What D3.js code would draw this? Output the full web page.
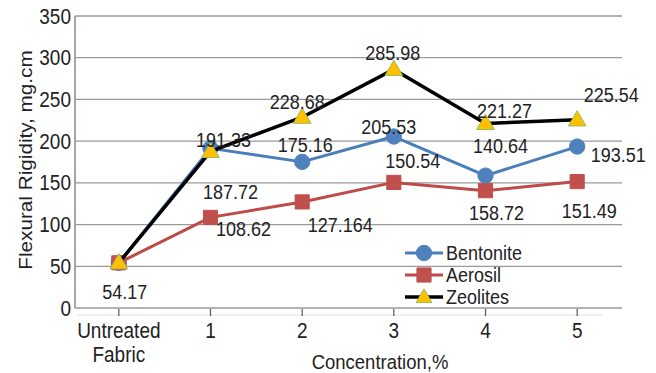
<!DOCTYPE html>
<html><head><meta charset="utf-8">
<script src="https://cdn.jsdelivr.net/npm/d3@7"></script>
<style>
html,body{margin:0;padding:0;background:#fff;}
svg{display:block;font-family:"Liberation Sans",Arial,sans-serif;}
</style></head>
<body><svg id="c" width="656" height="373"></svg>
<script>
const categories = ["Untreated\nFabric", "1", "2", "3", "4", "5"];
const bentonite = [54.17, 191.33, 175.16, 205.53, 158.72, 193.51];
const aerosil   = [54.17, 108.62, 127.164, 150.54, 140.64, 151.49];
const zeolites  = [54.17, 187.72, 228.68, 285.98, 221.27, 225.54];
const seriesNames = ["Bentonite", "Aerosil", "Zeolites"];
const yTicks = [0, 50, 100, 150, 200, 250, 300, 350];
const labelTexts = {
  Bentonite: ["54.17", "191.33", "175.16", "205.53", "158.72", "193.51"],
  Aerosil:   [null, "108.62", "127.164", "150.54", "140.64", "151.49"],
  Zeolites:  [null, "187.72", "228.68", "285.98", "221.27", "225.54"]
};
// label offsets (style): [dx, dy] from the point
const labelOffsets = {
  Bentonite: [[6,29],[13,-8],[3,-17],[-5,-10],[11,37],[41,8]],
  Aerosil:   [null,[33,12],[38,23],[19,-21],[15,-45],[12,29]],
  Zeolites:  [null,[20,41],[-5,-15],[-1,-16],[19,-12],[34,-25]]
};

const SY = 1.12; // vertical stretch of text seen in reference
const svg = d3.select("#c");
const x = d3.scalePoint().domain(categories).range([73, 623]).padding(0.5);
const y = d3.scaleLinear().domain([0, 350]).range([308, 16]);

function txt(parent, px, py, s, size, anchor, rot) {
  const sc = rot ? `scale(${SY},1)` : `scale(1,${SY})`;
  return parent.append("text")
    .attr("transform", `translate(${px},${py})` + (rot ? ` rotate(${rot})` : "") + " " + sc)
    .attr("text-anchor", anchor).attr("font-size", size).attr("fill", "#222").text(s);
}

// gridlines
svg.append("g").selectAll("line").data(yTicks).join("line")
  .attr("x1", 75).attr("x2", 622)
  .attr("y1", d => y(d)).attr("y2", d => y(d))
  .attr("stroke", "#9a9a9a").attr("stroke-width", 1.3);

// left axis line
svg.append("line").attr("x1", 75).attr("x2", 75).attr("y1", y(350)).attr("y2", y(0))
  .attr("stroke", "#8a8a8a").attr("stroke-width", 1.5);

// y tick labels
const gy = svg.append("g");
yTicks.forEach(d => txt(gy, 71, y(d) + 7.5, d, 19, "end"));

// faint x axis line and ticks
svg.append("line").attr("x1", 77).attr("x2", 603).attr("y1", 315).attr("y2", 315)
  .attr("stroke", "#e2e2e2").attr("stroke-width", 1);
svg.append("g").selectAll("line").data(categories).join("line")
  .attr("x1", d => x(d)).attr("x2", d => x(d)).attr("y1", 309).attr("y2", 316)
  .attr("stroke", "#555").attr("stroke-width", 1.2);

// x tick labels
const gx = svg.append("g");
categories.forEach(d => {
  d.split("\n").forEach((s, i) => txt(gx, x(d), 338 + i * 24, s, 19, "middle"));
});

// axis titles
txt(svg, 380, 369, "Concentration,%", 18.5, "middle");
txt(svg, 32, 160, "Flexural Rigidity, mg.cm", 18.5, "middle", -90);

const data = { Bentonite: bentonite, Aerosil: aerosil, Zeolites: zeolites };
const lineColor = { Bentonite: "#4a7ebb", Aerosil: "#be4b48", Zeolites: "#000000" };
const markerFill = { Bentonite: "#4f81bd", Aerosil: "#c0504d", Zeolites: "#ffc000" };
const markerStroke = { Bentonite: "#4f81bd", Aerosil: "#c0504d", Zeolites: "#9bbb59" };
const symType = { Bentonite: d3.symbolCircle, Aerosil: d3.symbolSquare, Zeolites: d3.symbolTriangle };
const symSize = { Bentonite: 185, Aerosil: 200, Zeolites: 135 };

const line = d3.line().x((d, i) => x(categories[i])).y(d => y(d));

seriesNames.forEach(name => {
  const vals = data[name];
  const g = svg.append("g");
  g.append("path").attr("d", line(vals)).attr("fill", "none")
    .attr("stroke", lineColor[name]).attr("stroke-width", name === "Zeolites" ? 3.5 : 3)
    .attr("stroke-linejoin", "round");
  g.selectAll("path.m").data(vals).join("path").attr("class", "m")
    .attr("d", d3.symbol().type(symType[name]).size(symSize[name]))
    .attr("transform", (d, i) => `translate(${x(categories[i])},${y(d) + (name === "Zeolites" ? 1 : 0)})`)
    .attr("fill", markerFill[name]).attr("stroke", markerStroke[name]).attr("stroke-width", 1);
});

// data labels
const gl = svg.append("g");
seriesNames.forEach(name => {
  const vals = data[name];
  vals.forEach((v, i) => {
    const t = labelTexts[name][i], o = labelOffsets[name][i];
    if (!t || !o) return;
    txt(gl, x(categories[i]) + o[0], y(v) + o[1] + 7, t, 18, "middle");
  });
});

// legend
const lg = svg.append("g");
seriesNames.forEach((name, i) => {
  const ly = 253 + i * 22;
  lg.append("line").attr("x1", 405).attr("x2", 443).attr("y1", ly).attr("y2", ly)
    .attr("stroke", lineColor[name]).attr("stroke-width", name === "Zeolites" ? 3.5 : 3);
  lg.append("path").attr("d", d3.symbol().type(symType[name]).size(name === "Zeolites" ? 110 : symSize[name])())
    .attr("transform", `translate(424,${ly + (name === "Zeolites" ? 1 : 0)})`)
    .attr("fill", markerFill[name]).attr("stroke", markerStroke[name]).attr("stroke-width", 1);
  txt(lg, 446, ly + 7, name, 18, "start");
});
</script></body></html>
